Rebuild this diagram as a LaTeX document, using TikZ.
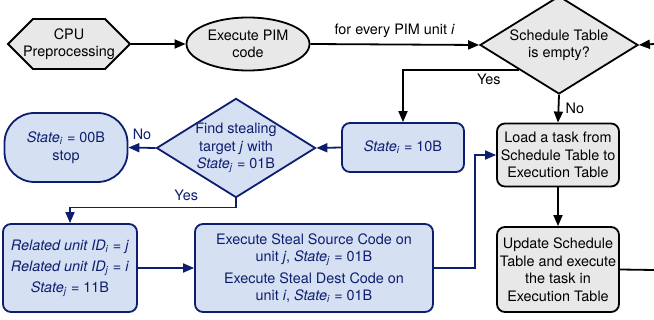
\documentclass[tikz,border=0pt]{standalone}
\usepackage{fontspec}
\setmainfont{TeX Gyre Heros}
\usepackage{tikz}
\usetikzlibrary{arrows.meta, positioning, calc, shapes.geometric, shapes.symbols}
\usepackage{xcolor}
\definecolor{navy}{RGB}{14,30,110}
\definecolor{paleblue}{RGB}{213,224,243}
\definecolor{palegray}{RGB}{232,232,232}
\newcommand{\statesub}[1]{\textit{State}\textsubscript{\textit{#1}}}
\newcommand{\idsub}[1]{\textit{Related unit ID}\textsubscript{\textit{#1}}}

\begin{document}
\begin{tikzpicture}[
          x=1pt, y=-1pt,
          font=\fontsize{14.4}{17.5}\selectfont,
          line width=1.8pt,
          graybox/.style={rectangle, rounded corners=8pt, draw, fill=palegray, align=center, inner sep=1pt, minimum width=122pt},
          bluebox/.style={rectangle, rounded corners=8pt, draw=navy, fill=paleblue, text=navy, align=center, inner sep=1pt},
          decision/.style={diamond, draw, inner sep=-8pt, align=center},
          >={Triangle[length=11pt,width=9pt]}
        ]
        \useasboundingbox (0,0) rectangle (654,320);
        % top row
        \node [signal, signal to=west and east, signal pointer angle=90, draw, fill=palegray, minimum width=122pt, minimum height=50pt, inner xsep=-16pt, inner ysep=0pt, align=center] (cpu) at (69,44) {CPU\\Preprocessing};
        \node [ellipse, draw, fill=palegray, minimum width=123pt, minimum height=53pt, inner sep=-4pt, align=center] (pim) at (248,44) {Execute PIM\\code};
        \node [decision, fill=palegray, minimum width=158pt, minimum height=86pt] (sched) at (559,45) {Schedule Table\\is empty?};
        \coordinate (inR) at (654,44);
        % steal side
        \node [bluebox, minimum width=122pt, minimum height=49pt] (s10) at (403,147.5) {\statesub{i} = 10B};
        \node [decision, draw=navy, fill=paleblue, text=navy, minimum width=159pt, minimum height=93pt] (find) at (236,148) {Find stealing\\target \textit{j} with\\\statesub{j} = 01B};
        \node [bluebox, rounded corners=30pt, minimum width=123pt, minimum height=69pt] (stop) at (66,147.5) {\statesub{i} = 00B\\stop};
        \node [bluebox, minimum width=134pt, minimum height=88pt, font=\fontsize{14.4}{21}\selectfont] (rel) at (70,268) {\idsub{i} = \textit{j}\\\idsub{j} = \textit{i}\\\statesub{j} = 11B};
        \node [bluebox, minimum width=238pt, minimum height=88pt] (steal) at (314,268) {Execute Steal Source Code on\\unit \textit{j}, \statesub{j} = 01B\\[4pt]Execute Steal Dest Code on\\unit \textit{i}, \statesub{i} = 01B};
        % task side
        \node [graybox, minimum height=63pt] (load) at (558,155) {Load a task from\\Schedule Table to\\Execution Table};
        \node [graybox, minimum height=85pt] (upd) at (558,269.5) {Update Schedule\\Table and execute\\the task in\\Execution Table};
        \coordinate (outR) at (654,270);

        \draw [->] (cpu.east) -- (pim.west);
        \draw [->] (pim.east) -- node [above=3pt] {for every PIM unit \textit{i}} (sched.west);
        \draw [->] (inR) -- (sched.east);
        \draw [->] (sched.south west) -| node [below, pos=0.13] {Yes} (s10.north);
        \draw [->] (sched.south) -- node [right=3pt] {No} (load.north);
        \draw [->, navy] (s10.west) -- (find.east);
        \draw [->, navy] (find.west) -- node [above=4pt, text=navy] {No} (stop.east);
        \draw [->, navy] (find.south) -- ++(0,9) -| node [above=3pt, pos=0.15, text=navy] {Yes} (rel.north);
        \draw [->, navy] (rel.east) -- (steal.west);
        \draw [->, navy] (steal.east) -- ++(41,0) |- (load.west);
        \draw [->] (load.south) -- (upd.north);
        \draw (upd.east) -- (outR);
        \end{tikzpicture}
\end{document}
